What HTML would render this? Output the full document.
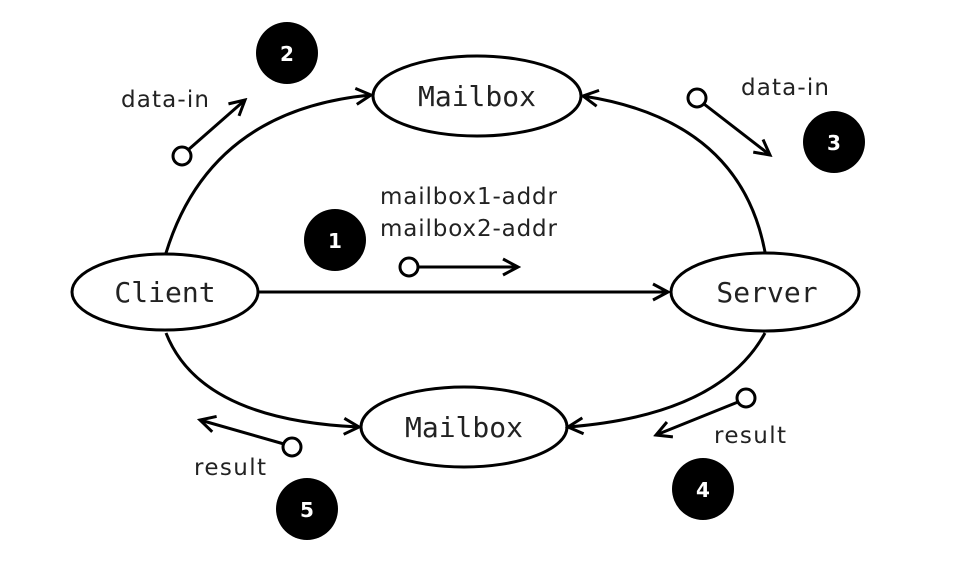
<!DOCTYPE html>
<html><head><style>html,body{margin:0;padding:0;background:#fff}</style></head>
<body>
<svg width="974" height="566" viewBox="0 0 974 566" xmlns="http://www.w3.org/2000/svg">
<defs>
<marker id="a" markerWidth="20" markerHeight="20" refX="17" refY="10" orient="auto" markerUnits="userSpaceOnUse">
<path d="M2,2 L17,10 L2,18" fill="none" stroke="#000" stroke-width="3"/>
</marker>
</defs>
<g fill="none" stroke="#000" stroke-width="3">
<ellipse cx="165" cy="292" rx="93" ry="38" fill="#fff"/>
<ellipse cx="765" cy="292" rx="94" ry="39" fill="#fff"/>
<ellipse cx="477" cy="96" rx="104" ry="40" fill="#fff"/>
<ellipse cx="464" cy="427" rx="103" ry="40" fill="#fff"/>
<line x1="258" y1="292" x2="668" y2="292" marker-end="url(#a)"/>
<path d="M166,253 Q210,110 371,95" marker-end="url(#a)"/>
<path d="M765,252 Q740,120 583,96" marker-end="url(#a)"/>
<path d="M765,333 Q720,415 568,427" marker-end="url(#a)"/>
<path d="M166,333 Q200,420 359,427" marker-end="url(#a)"/>
<line x1="188" y1="150" x2="245" y2="100" marker-end="url(#a)"/>
<line x1="704" y1="104" x2="770" y2="155" marker-end="url(#a)"/>
<line x1="418" y1="267" x2="518" y2="267" marker-end="url(#a)"/>
<line x1="738" y1="402" x2="656" y2="435" marker-end="url(#a)"/>
<line x1="284" y1="444" x2="200" y2="420" marker-end="url(#a)"/>
<circle cx="182" cy="156" r="9" fill="#fff"/>
<circle cx="697" cy="98" r="9" fill="#fff"/>
<circle cx="409" cy="267" r="9" fill="#fff"/>
<circle cx="746" cy="398" r="9" fill="#fff"/>
<circle cx="292" cy="447" r="9" fill="#fff"/>
</g>
<g fill="#000">
<circle cx="287" cy="53" r="31"/>
<circle cx="834" cy="142" r="31"/>
<circle cx="335" cy="240" r="31"/>
<circle cx="703" cy="489" r="31"/>
<circle cx="307" cy="509" r="31"/>
</g>
<g fill="#fff" font-family="'DejaVu Sans', 'Liberation Sans', sans-serif" font-weight="bold" font-size="20" text-anchor="middle">
<text x="287" y="61">2</text>
<text x="834" y="150">3</text>
<text x="335" y="248">1</text>
<text x="703" y="497">4</text>
<text x="307" y="517">5</text>
</g>
<g font-family="'DejaVu Sans Mono', 'Liberation Mono', monospace" font-size="28" text-anchor="middle" fill="#222">
<text x="165" y="302">Client</text>
<text x="767" y="302">Server</text>
<text x="477" y="106">Mailbox</text>
<text x="464" y="437">Mailbox</text>
</g>
<g font-family="'DejaVu Sans', 'Liberation Sans', sans-serif" font-size="23" fill="#222">
<text x="121" y="107" textLength="88">data-in</text>
<text x="741" y="95" textLength="88">data-in</text>
<text x="380" y="204" textLength="177">mailbox1-addr</text>
<text x="380" y="236" textLength="177">mailbox2-addr</text>
<text x="714" y="443" textLength="72">result</text>
<text x="194" y="475" textLength="72">result</text>
</g>
</svg>
</body></html>
